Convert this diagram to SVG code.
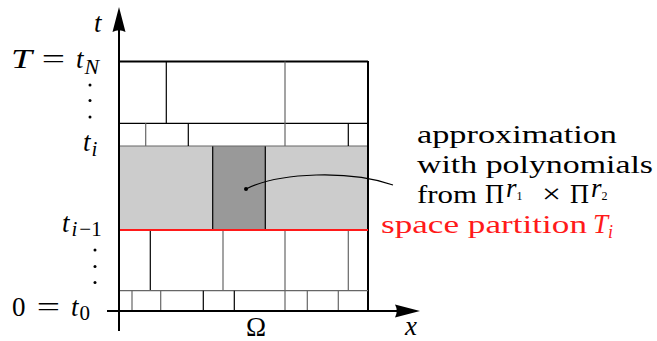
<svg xmlns="http://www.w3.org/2000/svg" width="657" height="341" viewBox="0 0 657 341">
<style>
.k{stroke:#000;stroke-width:1.2;fill:none}
.g{stroke:#666;stroke-width:1.2;fill:none}
.thick{stroke:#000;stroke-width:2;fill:none}
text{font-family:"Liberation Serif","Times New Roman",Tinos,"Noto Serif","DejaVu Serif",serif}
.txt{font-size:25px}
.m{font-style:italic;font-size:27px}
.r{font-size:27px}
.red{fill:#ff1a1a}
</style>
<rect width="657" height="341" fill="#fff"/>
<g id="grey-band">
<rect x="119" y="146" width="249" height="84" fill="#cccccc"/>
<rect x="212.7" y="146" width="52.6" height="84" fill="#999999"/>
<line class="k" x1="212.7" y1="146" x2="212.7" y2="230"/>
<line class="k" x1="265.3" y1="146" x2="265.3" y2="230"/>
<line class="g" x1="119" y1="146" x2="368" y2="146"/>
</g>
<g id="grid">
<line class="thick" x1="119" y1="61.5" x2="368" y2="61.5"/>
<line class="thick" x1="368" y1="61" x2="368" y2="311"/>
<line class="k" x1="119" y1="123.3" x2="368" y2="123.3"/>
<line class="k" x1="166.3" y1="61.5" x2="166.3" y2="123.3"/>
<line class="g" x1="285" y1="61.5" x2="285" y2="146"/>
<line class="g" x1="145.7" y1="123.3" x2="145.7" y2="146"/>
<line class="k" x1="188.3" y1="123.3" x2="188.3" y2="146"/>
<line class="k" x1="348.3" y1="123.3" x2="348.3" y2="146"/>
<line class="k" x1="150.3" y1="230" x2="150.3" y2="290.7"/>
<line class="g" x1="223" y1="230" x2="223" y2="290.7"/>
<line class="g" x1="285" y1="230" x2="285" y2="311"/>
<line class="g" x1="348.3" y1="230" x2="348.3" y2="290.7"/>
<line class="g" x1="119" y1="290.7" x2="368" y2="290.7"/>
<line class="g" x1="132" y1="290.7" x2="132" y2="311"/>
<line class="g" x1="160.7" y1="290.7" x2="160.7" y2="311"/>
<line class="k" x1="203.3" y1="290.7" x2="203.3" y2="311"/>
<line class="k" x1="234.3" y1="290.7" x2="234.3" y2="311"/>
<line class="g" x1="307.3" y1="290.7" x2="307.3" y2="311"/>
<line class="g" x1="338.3" y1="290.7" x2="338.3" y2="311"/>
<line x1="119" y1="230" x2="368" y2="230" stroke="#ff1a1a" stroke-width="2"/>
</g>
<g id="axes">
<line class="thick" x1="119" y1="331" x2="119" y2="28"/>
<path d="M119,7 L125.5,32 Q119,28.5 112.5,32 Z" fill="#000"/>
<line class="thick" x1="107" y1="311" x2="400" y2="311"/>
<path d="M420,311 L395,317.5 Q398.5,311 395,304.5 Z" fill="#000"/>
</g>
<g id="connectors">
<path d="M246,189 C280,172 350,170 393,185" fill="none" stroke="#000" stroke-width="1.1"/>
<circle cx="246" cy="189" r="2" fill="#000"/>
</g>
<g id="axis-labels">
<text class="m" x="94" y="32">t</text>
<text class="m" x="405" y="335">x</text>
<text class="r" x="256" y="336" text-anchor="middle" font-size="24">Ω</text>
</g>
<g id="time-labels">
<text class="m" x="11" y="68" textLength="21" lengthAdjust="spacingAndGlyphs">T</text>
<text class="r" x="41.7" y="68" textLength="23.3" lengthAdjust="spacingAndGlyphs">=</text>
<text class="m" x="76" y="68">t<tspan font-size="22" dy="6" dx="1">N</tspan></text>
<g fill="#000"><circle cx="90" cy="85" r="1.5"/><circle cx="90" cy="100.5" r="1.5"/><circle cx="90" cy="117" r="1.5"/></g>
<text class="m" x="83" y="151">t<tspan font-size="21" dy="5" dx="1">i</tspan></text>
<text class="m" x="62" y="232">t<tspan font-size="21" dy="4" dx="2">i</tspan><tspan font-style="normal" font-size="21" dx="2">−1</tspan></text>
<g fill="#000"><circle cx="95" cy="250" r="1.5"/><circle cx="95" cy="266.5" r="1.5"/><circle cx="95" cy="282.5" r="1.5"/></g>
<text class="r" x="12" y="316" font-size="25">0</text>
<text class="r" x="36.7" y="316" textLength="23.3" lengthAdjust="spacingAndGlyphs">=</text>
<text class="m" x="71" y="316">t<tspan font-style="normal" font-size="21" dy="4" dx="1">0</tspan></text>
</g>
<g id="annotation">
<text class="txt" x="417" y="143" textLength="200" lengthAdjust="spacingAndGlyphs">approximation</text>
<text class="txt" x="417" y="172.5" textLength="236" lengthAdjust="spacingAndGlyphs">with polynomials</text>
<text class="txt" x="417" y="203" textLength="60" lengthAdjust="spacingAndGlyphs">from</text>
<text class="r" x="485" y="203" textLength="19" lengthAdjust="spacingAndGlyphs">Π</text>
<text class="m" x="506" y="197" font-size="15">r<tspan font-style="normal" font-size="12" dy="3">1</tspan></text>
<text class="r" x="542" y="203" font-size="25" textLength="19" lengthAdjust="spacingAndGlyphs">×</text>
<text class="r" x="570" y="203" textLength="19" lengthAdjust="spacingAndGlyphs">Π</text>
<text class="m" x="591" y="197" font-size="15">r<tspan font-style="normal" font-size="12" dy="3">2</tspan></text>
</g>
<g id="partition-label">
<text class="txt red" x="381" y="233" textLength="206" lengthAdjust="spacingAndGlyphs">space partition</text>
<text class="m red" x="593" y="233" font-size="25">T<tspan font-size="18" dy="5">i</tspan></text>
</g>
</svg>
